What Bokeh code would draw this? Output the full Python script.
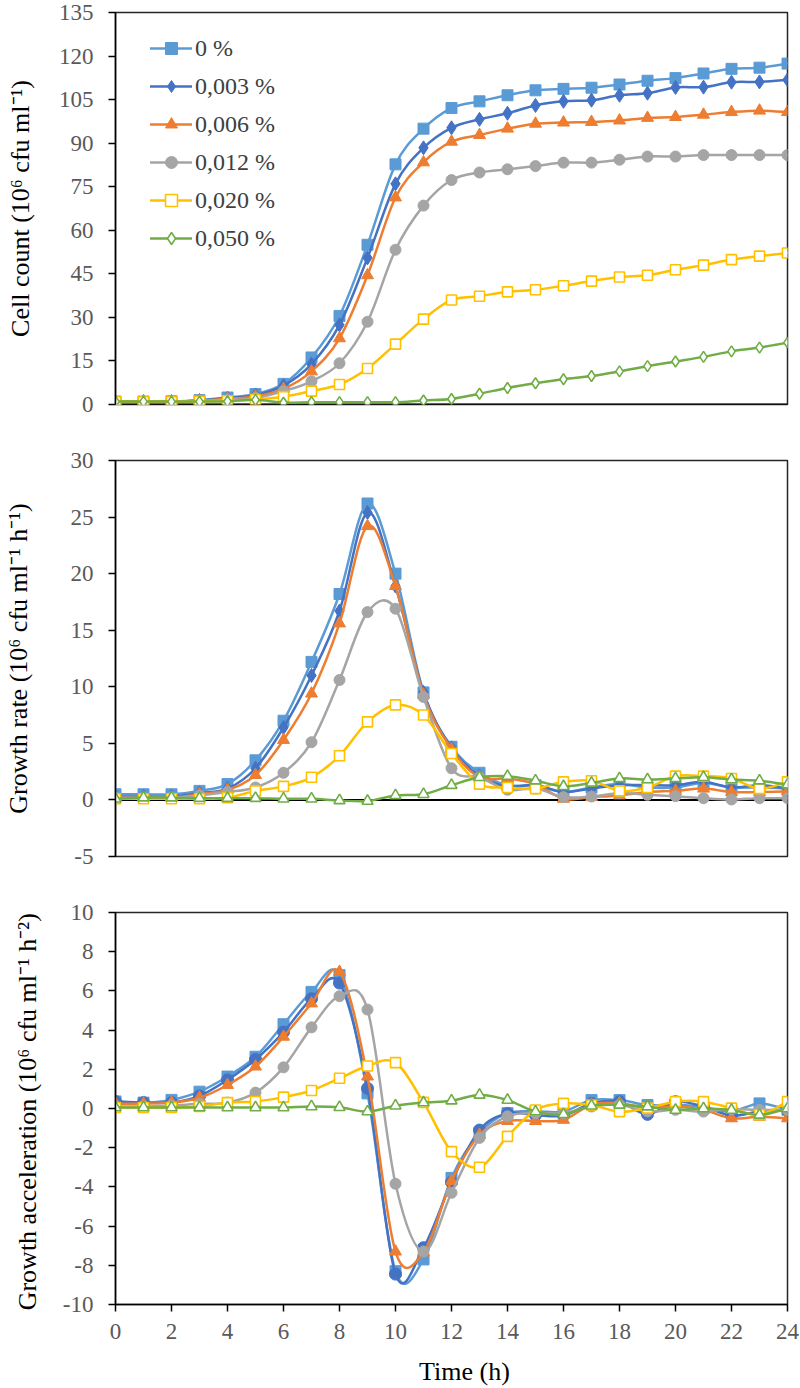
from bokeh.plotting import figure
from bokeh.layouts import column
from bokeh.models import Legend, LegendItem, Span, FixedTicker, Range1d, ColumnDataSource
from bokeh.embed import file_html
from bokeh.resources import INLINE

# ---------------- data ----------------
hours = list(range(25))
series_labels = ["0 %", "0,003 %", "0,006 %", "0,012 %", "0,020 %", "0,050 %"]

count_0 = [1.0, 1.0, 1.1, 1.5, 2.4, 3.6, 7.1, 16.2, 30.5, 55.0, 82.7, 95.0, 102.1, 104.4, 106.5, 108.2, 108.7, 109.1, 110.2, 111.5, 112.4, 114.0, 115.6, 116.0, 117.4]
count_003 = [1.0, 1.0, 1.0, 1.4, 2.2, 3.2, 6.5, 13.9, 27.4, 50.5, 76.0, 88.4, 95.3, 98.2, 100.3, 103.0, 104.4, 104.8, 106.5, 107.2, 109.2, 109.3, 111.0, 111.1, 111.8]
count_006 = [1.0, 1.0, 1.0, 1.3, 2.0, 2.8, 5.4, 11.4, 22.8, 44.5, 71.3, 83.4, 90.5, 92.8, 95.0, 96.7, 97.1, 97.3, 97.8, 98.7, 99.0, 99.8, 100.7, 101.2, 100.7]
count_012 = [1.0, 1.0, 1.0, 1.2, 1.6, 2.2, 4.6, 8.0, 14.2, 28.5, 53.3, 68.5, 77.3, 79.9, 81.0, 82.1, 83.3, 83.3, 84.3, 85.4, 85.4, 85.9, 85.9, 85.9, 85.9]
count_020 = [1.0, 1.0, 1.0, 1.1, 1.3, 1.7, 2.7, 4.6, 6.9, 12.4, 20.8, 29.4, 36.0, 37.3, 38.8, 39.5, 40.9, 42.5, 43.9, 44.5, 46.4, 48.0, 49.9, 51.1, 52.2]
count_050 = [1.0, 1.0, 1.0, 1.0, 1.1, 1.6, 0.6, 0.8, 0.8, 0.8, 0.8, 1.4, 1.9, 3.7, 5.7, 7.3, 8.7, 9.8, 11.4, 13.2, 14.8, 16.4, 18.3, 19.6, 21.3]

rate_0 = [0.5, 0.5, 0.5, 0.8, 1.4, 3.5, 7.0, 12.2, 18.2, 26.2, 20.0, 9.5, 4.7, 2.4, 1.3, 1.3, 0.7, 1.1, 1.4, 1.1, 1.1, 1.5, 1.1, 1.1, 1.0]
rate_003 = [0.3, 0.3, 0.3, 0.6, 1.0, 2.8, 6.4, 11.0, 16.7, 25.4, 18.9, 9.5, 4.6, 2.1, 1.2, 1.3, 0.7, 1.0, 1.3, 1.3, 1.3, 1.6, 1.1, 1.3, 1.0]
rate_006 = [0.2, 0.2, 0.2, 0.5, 0.9, 2.2, 5.3, 9.4, 15.6, 24.2, 18.9, 9.3, 4.5, 2.0, 1.9, 1.4, 0.1, 0.25, 0.4, 0.7, 0.8, 1.0, 0.7, 0.7, 0.75]
rate_012 = [0.2, 0.2, 0.2, 0.4, 0.7, 1.1, 2.4, 5.1, 10.6, 16.6, 16.9, 9.1, 2.8, 2.0, 0.9, 1.0, 0.25, 0.3, 0.6, 0.45, 0.33, 0.15, 0.04, 0.15, 0.15]
rate_020 = [0.1, 0.1, 0.1, 0.1, 0.2, 0.8, 1.2, 2.0, 3.9, 6.9, 8.4, 7.5, 4.1, 1.4, 1.1, 1.0, 1.6, 1.7, 0.8, 1.1, 2.1, 2.1, 1.9, 1.0, 1.6]
rate_050 = [0.1, 0.2, 0.2, 0.15, 0.15, 0.15, 0.1, 0.1, -0.05, -0.1, 0.4, 0.5, 1.3, 2.0, 2.1, 1.7, 1.2, 1.5, 1.9, 1.8, 1.9, 2.0, 1.8, 1.7, 1.35]

accel_0 = [0.36, 0.3, 0.44, 0.86, 1.63, 2.64, 4.3, 5.95, 6.8, 0.77, -8.3, -7.7, -3.54, -1.25, -0.24, -0.15, -0.15, 0.43, 0.43, 0.18, 0.19, 0.07, -0.15, 0.26, -0.07]
accel_003 = [0.36, 0.3, 0.3, 0.64, 1.46, 2.5, 3.9, 5.6, 6.4, 1.03, -8.45, -7.1, -3.76, -1.1, -0.25, -0.33, -0.36, 0.26, 0.35, -0.3, 0.35, 0.09, -0.36, -0.15, -0.08]
accel_006 = [0.25, 0.25, 0.3, 0.55, 1.2, 2.14, 3.66, 5.36, 6.97, 1.63, -7.3, -7.35, -3.7, -1.34, -0.64, -0.64, -0.58, 0.19, 0.27, 0.02, 0.1, -0.07, -0.5, -0.42, -0.5]
accel_012 = [0.1, 0.1, 0.15, 0.24, 0.3, 0.81, 2.1, 4.14, 5.73, 5.05, -3.84, -7.3, -4.3, -1.5, -0.4, -0.24, -0.24, 0.1, 0.19, -0.15, -0.07, -0.16, -0.03, -0.07, -0.07]
accel_020 = [0.05, 0.05, 0.05, 0.1, 0.3, 0.36, 0.58, 0.92, 1.54, 2.17, 2.34, 0.31, -2.2, -3.0, -1.42, -0.08, 0.26, 0.18, -0.16, 0.02, 0.35, 0.35, 0.02, -0.32, 0.35]
accel_050 = [0.05, 0.05, 0.05, 0.05, 0.05, 0.05, 0.05, 0.1, 0.06, -0.16, 0.14, 0.3, 0.4, 0.69, 0.43, -0.16, -0.3, 0.14, 0.18, 0.09, -0.08, 0.0, -0.08, -0.33, 0.0]

count_ticks = [0, 15, 30, 45, 60, 75, 90, 105, 120, 135]
rate_ticks = [-5, 0, 5, 10, 15, 20, 25, 30]
accel_ticks = [-10, -8, -6, -4, -2, 0, 2, 4, 6, 8, 10]
time_ticks = [0, 2, 4, 6, 8, 10, 12, 14, 16, 18, 20, 22, 24]

colors = ["#5B9BD5", "#4472C4", "#ED7D31", "#A5A5A5", "#FFC000", "#70AD47"]

FONT = "Liberation Serif"
TICK_SIZE = "23px"
LABEL_SIZE = "26px"
FIG_W = 800


def bezier_source(xs, ys):
    # Catmull-Rom style smoothing expressed as Bezier control points (Excel "smoothed line")
    n = len(xs)
    d = dict(x0=[], y0=[], x1=[], y1=[], cx0=[], cy0=[], cx1=[], cy1=[])
    for i in range(n - 1):
        im = max(i - 1, 0)
        ip = min(i + 2, n - 1)
        d["x0"].append(xs[i]); d["y0"].append(ys[i])
        d["x1"].append(xs[i + 1]); d["y1"].append(ys[i + 1])
        d["cx0"].append(xs[i] + (xs[i + 1] - xs[im]) / 6.0)
        d["cy0"].append(ys[i] + (ys[i + 1] - ys[im]) / 6.0)
        d["cx1"].append(xs[i + 1] - (xs[ip] - xs[i]) / 6.0)
        d["cy1"].append(ys[i + 1] - (ys[ip] - ys[i]) / 6.0)
    return ColumnDataSource(d)


def add_series(p, ys, color, marker, filled, size):
    src = bezier_source(hours, ys)
    br = p.bezier(x0="x0", y0="y0", x1="x1", y1="y1", cx0="cx0", cy0="cy0",
                  cx1="cx1", cy1="cy1", source=src, line_color=color,
                  line_width=2.5, line_cap="round")
    if filled:
        sr = p.scatter(hours, ys, marker=marker, size=size, fill_color=color,
                       line_color=color, line_width=1)
    else:
        sr = p.scatter(hours, ys, marker=marker, size=size, fill_color="white",
                       line_color=color, line_width=1.6)
    return br, sr


def make_fig(height, ymin, ymax, yticks, ylabel, border_left, border_top, border_bottom,
             ylabel_standoff):
    p = figure(width=FIG_W, height=height, output_backend="svg", toolbar_location=None,
               x_range=Range1d(0, 24), y_range=Range1d(ymin, ymax),
               min_border_left=border_left, min_border_right=13,
               min_border_top=border_top, min_border_bottom=border_bottom)
    p.grid.visible = False
    p.outline_line_color = "#262626"
    p.outline_line_width = 1.5
    p.background_fill_color = "white"
    p.border_fill_color = "white"
    ya = p.yaxis[0]
    ya.ticker = FixedTicker(ticks=yticks)
    ya.major_label_overrides = {t: str(t) for t in yticks}
    ya.minor_tick_line_color = None
    ya.major_tick_out = 7
    ya.major_tick_in = 0
    ya.major_tick_line_color = "black"
    ya.major_tick_line_width = 1.5
    ya.axis_line_color = "black"
    ya.axis_line_width = 1.5
    ya.major_label_text_font = FONT
    ya.major_label_text_font_size = TICK_SIZE
    ya.major_label_text_color = "#595959"
    ya.major_label_standoff = 15
    ya.axis_label = ylabel
    ya.axis_label_text_font = FONT
    ya.axis_label_text_font_size = LABEL_SIZE
    ya.axis_label_text_font_style = "normal"
    ya.axis_label_text_color = "black"
    ya.axis_label_standoff = ylabel_standoff
    return p


# ---------------- panel 1: cell count ----------------
p1 = make_fig(432, 0, 135, count_ticks, "Cell count (10\u2076 cfu ml\u207b\u00b9)", 113, 12, 28, 21)
p1.xaxis.visible = False
p1.add_layout(Span(location=0, dimension="width", line_color="black", line_width=2, level="underlay"))

count_series = [count_0, count_003, count_006, count_012, count_020, count_050]
markers1 = [("square", True, 11), ("diamond", True, 14), ("triangle", True, 12),
            ("circle", True, 11), ("square", False, 10), ("diamond", False, 11)]
items = []
for ys, c, (m, f, s), lab in zip(count_series, colors, markers1, series_labels):
    br, sr = add_series(p1, ys, c, m, f, s)
    items.append(LegendItem(label=lab, renderers=[br, sr]))

legend = Legend(items=items, location=(35, 151), orientation="vertical",
                glyph_width=42, glyph_height=30, spacing=8, label_standoff=3,
                padding=0, margin=0, border_line_color=None, background_fill_alpha=0,
                label_text_font=FONT, label_text_font_size="24px",
                label_text_color="#404040", label_height=30)
p1.add_layout(legend)

# ---------------- panel 2: growth rate ----------------
p2 = make_fig(452, -5, 30, rate_ticks, "Growth rate (10\u2076 cfu ml\u207b\u00b9 h\u207b\u00b9)", 115, 28, 28, 35)
p2.xaxis.visible = False
p2.add_layout(Span(location=0, dimension="width", line_color="black", line_width=2, level="underlay"))

rate_series = [rate_0, rate_003, rate_006, rate_012, rate_020, rate_050]
markers2 = [("square", True, 11), ("diamond", True, 14), ("triangle", True, 12),
            ("circle", True, 11), ("square", False, 10), ("triangle", False, 11)]
for ys, c, (m, f, s) in zip(rate_series, colors, markers2):
    add_series(p2, ys, c, m, f, s)

# ---------------- panel 3: growth acceleration ----------------
p3 = make_fig(504, -10, 10, accel_ticks, "Growth acceleration  (10\u2076 cfu ml\u207b\u00b9 h\u207b\u00b2)", 110, 28, 83, 18)
xa = p3.xaxis[0]
xa.ticker = FixedTicker(ticks=time_ticks)
xa.major_label_overrides = {t: str(t) for t in time_ticks}
xa.minor_tick_line_color = None
xa.major_tick_out = 7
xa.major_tick_in = 0
xa.major_tick_line_color = "black"
xa.major_tick_line_width = 1.5
xa.axis_line_color = "black"
xa.axis_line_width = 1.5
xa.major_label_text_font = FONT
xa.major_label_text_font_size = TICK_SIZE
xa.major_label_text_color = "#595959"
xa.major_label_standoff = 12
xa.axis_label = "\u00a0\u00a0\u00a0\u00a0Time (h)"
xa.axis_label_text_font = FONT
xa.axis_label_text_font_size = LABEL_SIZE
xa.axis_label_text_font_style = "normal"
xa.axis_label_text_color = "black"
xa.axis_label_standoff = 15

accel_series = [accel_0, accel_003, accel_006, accel_012, accel_020, accel_050]
markers3 = [("square", True, 11), ("circle", True, 12), ("triangle", True, 12),
            ("circle", True, 11), ("square", False, 10), ("triangle", False, 11)]
for ys, c, (m, f, s) in zip(accel_series, colors, markers3):
    add_series(p3, ys, c, m, f, s)

layout = column(p1, p2, p3, spacing=0)
open("out.html", "w").write(file_html(layout, INLINE))
